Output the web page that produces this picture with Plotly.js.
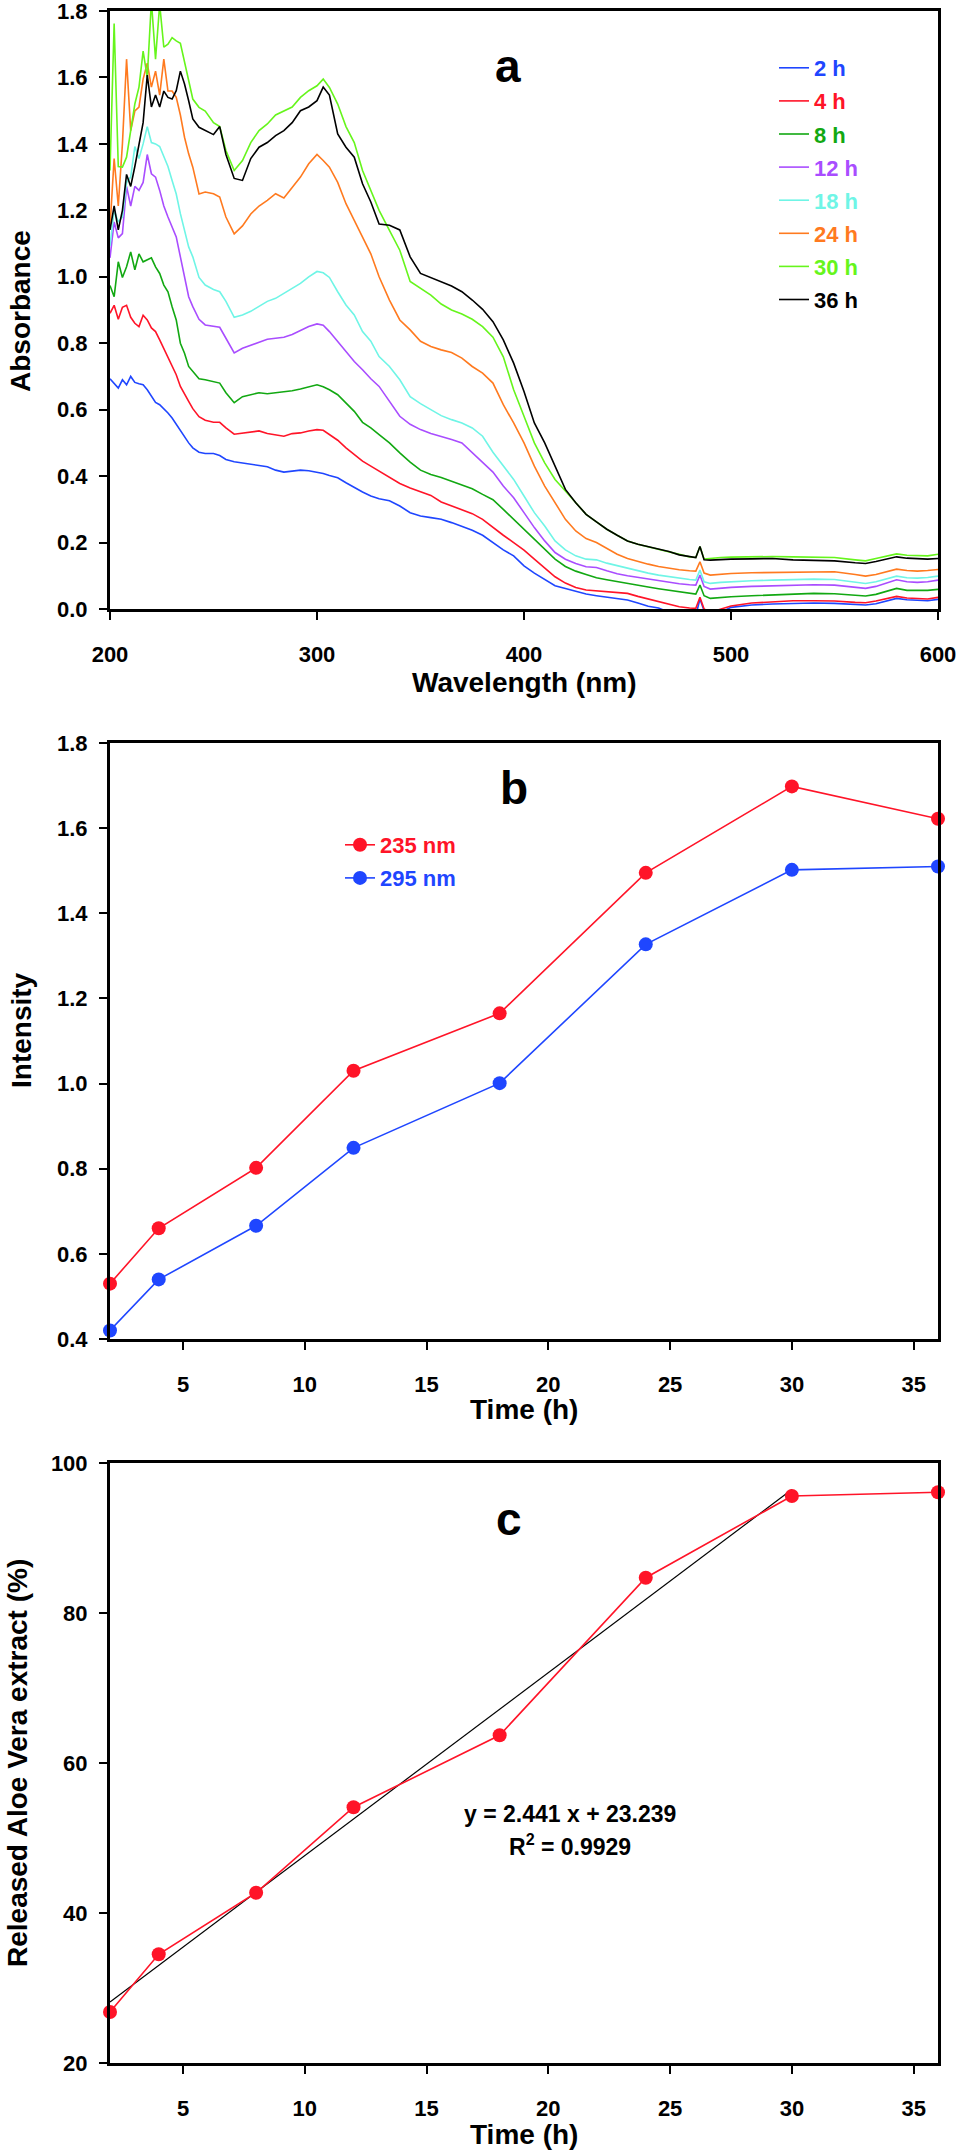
<!DOCTYPE html>
<html>
<head>
<meta charset="utf-8">
<script src="https://cdn.plot.ly/plotly-3.0.1.min.js"></script>
<style>
html,body{margin:0;padding:0;background:#fff;}
#chart{width:960px;height:2151px;}
</style>
</head>
<body>
<div id="chart"></div>
<script>
// ---------- Panel a: UV-Vis spectra ----------
const wavelength = [200,202,204,206,208,210,212,214,216,218,220,222,224,226,228,230,232,234,236,238,240,243,246,250,253,256,260,264,268,272,276,280,284,288,292,296,300,303,306,310,314,318,322,326,330,335,340,345,350,355,360,365,370,375,380,385,390,395,400,405,410,415,420,425,430,435,440,445,450,455,460,465,470,475,480,483,485,487,490,495,500,510,520,530,540,550,560,565,570,575,580,585,590,595,600];

const abs2h = [0.693,0.68,0.665,0.69,0.675,0.70,0.682,0.678,0.675,0.66,
0.64,0.622,0.615,0.603,0.59,0.575,0.556,0.54,0.52,0.50,0.485,
0.472,0.468,0.468,0.462,0.45,0.443,
0.44,0.436,0.432,0.428,0.418,0.412,0.416,0.418,0.416,0.412,
0.408,0.402,0.395,0.38,0.365,0.352,0.34,0.332,
0.326,0.31,0.29,0.28,0.275,0.27,0.26,0.248,0.237,0.222,
0.2,0.178,0.16,0.13,0.108,0.088,0.07,0.062,0.054,0.045,
0.04,0.035,0.03,0.027,0.018,0.008,0.003,-0.01,-0.02,-0.02,
-0.02,0.03,-0.005,-0.02,-0.01,0.005,
0.012,0.015,0.017,0.018,0.017,0.013,
0.012,0.016,0.024,0.032,0.028,0.026,0.025,0.029];

const abs4h = [0.89,0.914,0.872,0.908,0.914,0.878,0.86,0.85,0.884,0.87,
0.846,0.835,0.81,0.783,0.755,0.73,0.705,0.67,0.645,0.625,0.603,
0.579,0.568,0.562,0.562,0.545,0.526,
0.53,0.532,0.536,0.528,0.525,0.52,0.528,0.53,0.536,0.54,
0.538,0.525,0.508,0.485,0.465,0.445,0.43,0.415,
0.395,0.378,0.364,0.352,0.342,0.322,0.31,0.3,0.287,0.27,
0.245,0.222,0.2,0.177,0.15,0.122,0.097,0.078,0.065,0.057,
0.055,0.052,0.049,0.047,0.038,0.03,0.024,0.015,0.007,0.003,
0.002,0.035,0.0,-0.01,0.0,0.009,
0.018,0.022,0.025,0.025,0.024,0.02,
0.019,0.024,0.03,0.038,0.033,0.031,0.03,0.035];

const abs8h = [0.974,0.94,1.045,0.998,1.03,1.075,1.021,1.069,1.045,1.05,
1.057,1.03,1.01,0.975,0.955,0.91,0.87,0.8,0.77,0.73,0.715,
0.693,0.69,0.685,0.68,0.651,0.621,
0.639,0.645,0.651,0.648,0.651,0.652,0.657,0.662,0.669,0.675,
0.669,0.66,0.645,0.62,0.595,0.562,0.545,0.525,
0.5,0.47,0.442,0.418,0.405,0.396,0.385,0.374,0.362,0.345,
0.329,0.3,0.27,0.24,0.208,0.18,0.15,0.128,0.114,0.104,
0.094,0.088,0.082,0.077,0.072,0.066,0.061,0.056,0.051,0.047,
0.045,0.072,0.04,0.032,0.035,0.037,
0.04,0.043,0.045,0.047,0.046,0.041,
0.039,0.044,0.052,0.062,0.056,0.055,0.056,0.059];

const abs12h = [1.057,1.165,1.117,1.13,1.272,1.213,1.272,1.26,1.284,1.368,
1.31,1.3,1.26,1.213,1.18,1.15,1.12,1.06,1.0,0.94,0.91,
0.872,0.855,0.852,0.848,0.815,0.771,
0.785,0.794,0.805,0.812,0.815,0.818,0.826,0.838,0.85,0.858,
0.854,0.835,0.806,0.775,0.745,0.72,0.693,0.67,
0.625,0.58,0.556,0.54,0.528,0.52,0.51,0.5,0.47,0.44,
0.412,0.37,0.335,0.29,0.245,0.205,0.17,0.15,0.137,0.127,
0.125,0.115,0.106,0.1,0.095,0.089,0.085,0.08,0.076,0.073,
0.072,0.102,0.068,0.06,0.063,0.065,
0.068,0.07,0.072,0.073,0.072,0.065,
0.062,0.068,0.077,0.088,0.082,0.08,0.082,0.087];

const abs18h = [1.093,1.2,1.165,1.18,1.284,1.3,1.392,1.356,1.4,1.452,
1.404,1.4,1.392,1.36,1.332,1.29,1.249,1.19,1.14,1.09,1.06,
0.998,0.975,0.962,0.955,0.926,0.878,
0.885,0.896,0.91,0.926,0.935,0.95,0.965,0.98,1.0,1.016,
1.012,0.998,0.955,0.915,0.885,0.835,0.806,0.76,
0.73,0.69,0.639,0.618,0.6,0.582,0.57,0.56,0.545,0.52,
0.472,0.43,0.39,0.34,0.29,0.25,0.205,0.178,0.16,0.15,
0.148,0.138,0.13,0.122,0.115,0.108,0.102,0.097,0.092,0.089,
0.087,0.117,0.082,0.077,0.08,0.082,
0.085,0.087,0.089,0.09,0.089,0.08,
0.077,0.082,0.09,0.099,0.094,0.093,0.095,0.099];

const abs24h = [1.15,1.356,1.213,1.4,1.655,1.44,1.499,1.511,1.595,1.643,
1.571,1.619,1.547,1.655,1.559,1.559,1.54,1.487,1.42,1.37,1.33,
1.249,1.255,1.25,1.24,1.18,1.129,
1.153,1.189,1.213,1.23,1.25,1.237,1.27,1.3,1.34,1.368,
1.35,1.33,1.284,1.22,1.17,1.117,1.069,1.0,
0.93,0.87,0.84,0.806,0.79,0.78,0.772,0.755,0.73,0.71,
0.68,0.615,0.56,0.5,0.43,0.37,0.32,0.27,0.235,0.212,
0.2,0.182,0.165,0.152,0.143,0.135,0.128,0.122,0.118,0.115,
0.114,0.142,0.108,0.102,0.105,0.107,
0.109,0.11,0.112,0.113,0.112,0.104,
0.099,0.104,0.112,0.12,0.116,0.114,0.116,0.119];

const abs30h = [1.32,1.762,1.332,1.33,1.36,1.44,1.52,1.571,1.679,1.6,
1.83,1.655,1.82,1.691,1.7,1.72,1.71,1.703,1.65,1.595,1.535,
1.51,1.499,1.464,1.452,1.38,1.32,
1.35,1.404,1.44,1.46,1.487,1.5,1.511,1.54,1.56,1.575,
1.595,1.57,1.52,1.452,1.404,1.32,1.26,1.2,
1.14,1.08,0.986,0.965,0.945,0.918,0.9,0.888,0.872,0.85,
0.818,0.759,0.66,0.58,0.5,0.44,0.39,0.355,0.32,0.285,
0.262,0.24,0.222,0.205,0.195,0.187,0.18,0.172,0.163,0.157,
0.155,0.188,0.15,0.152,0.155,0.156,
0.158,0.158,0.157,0.157,0.155,0.148,
0.145,0.152,0.16,0.166,0.162,0.162,0.16,0.165];

const abs36h = [1.141,1.213,1.141,1.2,1.308,1.272,1.332,1.4,1.464,1.607,
1.511,1.547,1.511,1.559,1.54,1.535,1.56,1.619,1.58,1.53,1.475,
1.45,1.44,1.428,1.452,1.368,1.296,
1.29,1.356,1.39,1.404,1.425,1.44,1.464,1.5,1.511,1.53,
1.571,1.547,1.43,1.39,1.36,1.28,1.225,1.159,
1.155,1.141,1.06,1.01,0.998,0.985,0.972,0.955,0.93,0.902,
0.865,0.81,0.74,0.655,0.56,0.5,0.43,0.36,0.32,0.285,
0.262,0.24,0.222,0.205,0.195,0.188,0.182,0.173,0.163,0.157,
0.155,0.188,0.148,0.147,0.149,0.15,
0.151,0.152,0.148,0.147,0.145,0.139,
0.137,0.143,0.15,0.157,0.153,0.151,0.15,0.152];

const spectraLabels = ["2 h","4 h","8 h","12 h","18 h","24 h","30 h","36 h"];
const spectraSeries = [abs2h,abs4h,abs8h,abs12h,abs18h,abs24h,abs30h,abs36h];

// ---------- Panel b: intensity vs time ----------
const timeH = [2,4,8,12,18,24,30,36];
const int235 = [0.53,0.66,0.802,1.03,1.165,1.495,1.698,1.622];
const int295 = [0.42,0.54,0.666,0.849,1.001,1.327,1.502,1.510];

// ---------- Panel c: release ----------
const released = [26.8,34.5,42.7,54.1,63.7,84.7,95.6,96.1];
const fitX = [2,30];
const fitY = [28.12,96.47];
const fitEquation = "y = 2.441 x + 23.239";
const fitR2 = "R<sup>2</sup> = 0.9929";

// ---------- tick values ----------
const wlTicks = [200,300,400,500,600];
const absTicks = [0,0.2,0.4,0.6,0.8,1.0,1.2,1.4,1.6,1.8];
const timeTicks = [5,10,15,20,25,30,35];
const intTicks = [0.4,0.6,0.8,1.0,1.2,1.4,1.6,1.8];
const relTicks = [20,40,60,80,100];

// ---------- styles ----------
const spectraColors = ["#1f46ff","#ff1428","#12a812","#a94dff","#6ff5e6","#ff7a1f","#66f51c","#000000"];
const FONT = "Liberation Sans, Arial, Helvetica, sans-serif";

const traces = [];
spectraSeries.forEach((ys, i) => {
  traces.push({
    type: "scatter", mode: "lines",
    x: wavelength, y: ys,
    xaxis: "x", yaxis: "y",
    name: '<span style="color:' + spectraColors[i] + '">' + spectraLabels[i] + '</span>',
    legend: "legend", legendgroup: "g" + i,
    line: {color: spectraColors[i], width: 1.6},
    hoverinfo: "skip"
  });
});

traces.push({
  type: "scatter", mode: "lines+markers", x: timeH, y: int235,
  xaxis: "x2", yaxis: "y2", cliponaxis: false,
  name: '<span style="color:#ff1428">235 nm</span>',
  legend: "legend2", legendgroup: "b1",
  line: {color: "#ff1428", width: 1.6},
  marker: {color: "#ff1428", size: 14}
});
traces.push({
  type: "scatter", mode: "lines+markers", x: timeH, y: int295,
  xaxis: "x2", yaxis: "y2", cliponaxis: false,
  name: '<span style="color:#1f46ff">295 nm</span>',
  legend: "legend2", legendgroup: "b2",
  line: {color: "#1f46ff", width: 1.6},
  marker: {color: "#1f46ff", size: 14}
});

traces.push({
  type: "scatter", mode: "lines", x: fitX, y: fitY,
  xaxis: "x3", yaxis: "y3", showlegend: false,
  line: {color: "#000000", width: 1.2}
});
traces.push({
  type: "scatter", mode: "lines+markers", x: timeH, y: released,
  xaxis: "x3", yaxis: "y3", cliponaxis: false, showlegend: false,
  line: {color: "#ff1428", width: 1.6},
  marker: {color: "#ff1428", size: 14}
});

function axisStyle(extra) {
  return Object.assign({
    showline: true, linewidth: 3, linecolor: "#000", mirror: true,
    ticks: "outside", ticklen: 8, tickwidth: 2, tickcolor: "#000",
    showgrid: false, zeroline: false, ticklabeloverflow: "allow",
    tickfont: {family: FONT, size: 22, color: "#000", weight: "bold"},
    fixedrange: true
  }, extra);
}

const W = 960, H = 2151;
const xDom = [110 / W, 938 / W];
const yDomA = [1 - 609 / H, 1 - 11 / H];
const yDomB = [1 - 1339 / H, 1 - 743 / H];
const yDomC = [1 - 2063 / H, 1 - 1463 / H];

const titleFont = {family: FONT, size: 28, weight: "bold", color: "#000"};
const labelFont = {family: FONT, size: 46, weight: "bold", color: "#000"};
function note(text, px, py, font, angle) {
  return {text: text, xref: "paper", yref: "paper", x: px / W, y: 1 - py / H,
    xanchor: "center", yanchor: "middle", showarrow: false, font: font, textangle: angle || 0};
}

const XSTAND = 16;
const layout = {
  width: W, height: H,
  margin: {l: 0, r: 0, t: 0, b: 0},
  paper_bgcolor: "#fff", plot_bgcolor: "#fff",
  font: {family: FONT, color: "#000"},
  xaxis: axisStyle({domain: xDom, anchor: "y", range: [200, 600], tickvals: wlTicks, ticklabelstandoff: XSTAND}),
  yaxis: axisStyle({domain: yDomA, anchor: "x", range: [0, 1.8], tickvals: absTicks, tickformat: ".1f", ticklabelstandoff: 7}),
  xaxis2: axisStyle({domain: xDom, anchor: "y2", range: [2, 36], tickvals: timeTicks, ticklabelstandoff: XSTAND}),
  yaxis2: axisStyle({domain: yDomB, anchor: "x2", range: [0.4, 1.8], tickvals: intTicks, tickformat: ".1f", ticklabelstandoff: 7}),
  xaxis3: axisStyle({domain: xDom, anchor: "y3", range: [2, 36], tickvals: timeTicks, ticklabelstandoff: XSTAND}),
  yaxis3: axisStyle({domain: yDomC, anchor: "x3", range: [20, 100], tickvals: relTicks, ticklabelstandoff: 7}),
  showlegend: true,
  legend: {
    x: 774 / W, y: 1 - 47 / H, xanchor: "left", yanchor: "top",
    bgcolor: "rgba(0,0,0,0)", borderwidth: 0,
    font: {family: FONT, size: 22, weight: "bold"},
    traceorder: "grouped", tracegroupgap: 1.5
  },
  legend2: {
    x: 340 / W, y: 1 - 824 / H, xanchor: "left", yanchor: "top",
    bgcolor: "rgba(0,0,0,0)", borderwidth: 0,
    font: {family: FONT, size: 22, weight: "bold"},
    traceorder: "grouped", tracegroupgap: 1.5
  },
  annotations: [
    note("Wavelength (nm)", 524, 682, titleFont),
    note("Absorbance", 20, 311, titleFont, -90),
    note("Time (h)", 524, 1409, titleFont),
    note("Intensity", 21, 1030, titleFont, -90),
    note("Time (h)", 524, 2134, titleFont),
    note("Released Aloe Vera extract (%)", 17, 1763, titleFont, -90),
    note("a", 508, 66, labelFont),
    note("b", 514, 788, labelFont),
    note("c", 509, 1519, labelFont),
    note(fitEquation, 570, 1814, {family: FONT, size: 23, weight: "bold", color: "#000"}),
    note(fitR2, 570, 1845, {family: FONT, size: 23, weight: "bold", color: "#000"})
  ]
};

Plotly.newPlot("chart", traces, layout, {staticPlot: true, displayModeBar: false});
</script>
</body>
</html>
